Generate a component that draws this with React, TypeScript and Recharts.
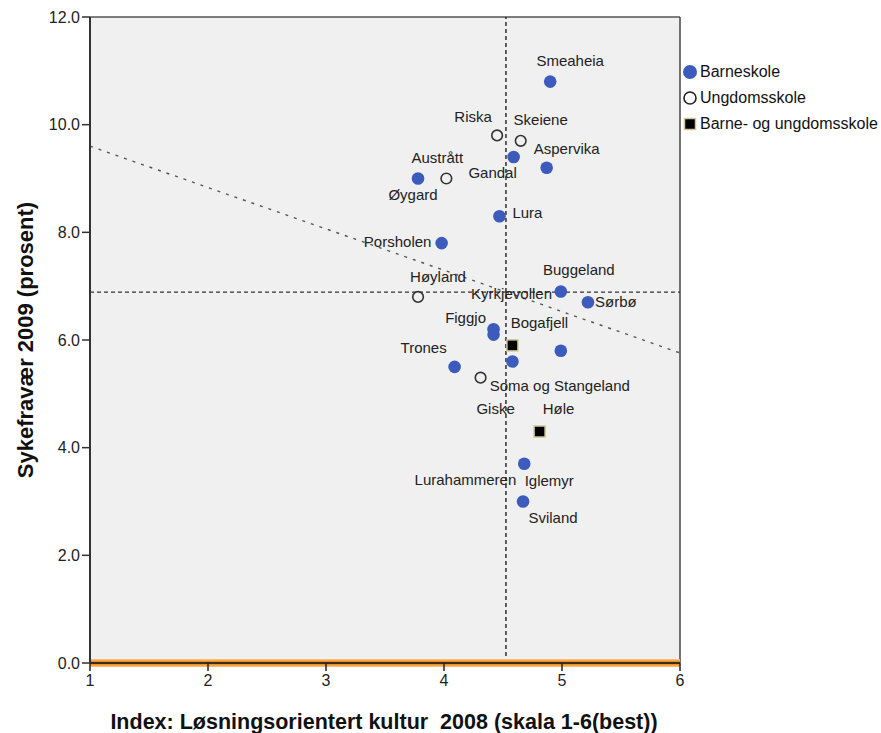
import * as React from "react";
import {
  ScatterChart, Scatter, XAxis, YAxis, CartesianGrid, ReferenceLine, Label,
} from "recharts";

type School = { name: string; x: number; y: number };

// Index: løsningsorientert kultur 2008 (x) vs sykefravær 2009 i prosent (y)
const barneskole: School[] = [
  { name: "Smeaheia", x: 4.9, y: 10.8 },
  { name: "Gandal", x: 4.59, y: 9.4 },
  { name: "Aspervika", x: 4.87, y: 9.2 },
  { name: "Øygard", x: 3.78, y: 9.0 },
  { name: "Lura", x: 4.47, y: 8.3 },
  { name: "Porsholen", x: 3.98, y: 7.8 },
  { name: "Buggeland", x: 4.99, y: 6.9 },
  { name: "Sørbø", x: 5.22, y: 6.7 },
  { name: "Figgjo", x: 4.42, y: 6.2 },
  { name: "Kyrkjevollen", x: 4.42, y: 6.1 },
  { name: "Soma og Stangeland", x: 4.99, y: 5.8 },
  { name: "Lurahammeren", x: 4.58, y: 5.6 },
  { name: "Trones", x: 4.09, y: 5.5 },
  { name: "Iglemyr", x: 4.68, y: 3.7 },
  { name: "Sviland", x: 4.67, y: 3.0 },
];

const ungdomsskole: School[] = [
  { name: "Riska", x: 4.45, y: 9.8 },
  { name: "Skeiene", x: 4.65, y: 9.7 },
  { name: "Austrått", x: 4.02, y: 9.0 },
  { name: "Høyland", x: 3.78, y: 6.8 },
  { name: "Giske", x: 4.31, y: 5.3 },
];

const barneOgUngdom: School[] = [
  { name: "Bogafjell", x: 4.58, y: 5.9 },
  { name: "Høle", x: 4.81, y: 4.3 },
];

const xTicks = [1, 2, 3, 4, 5, 6];
const yTicks = [0, 2, 4, 6, 8, 10, 12];

// mean lines and fitted line
const meanX = 4.525;
const meanY = 6.89;
const fitStart = { x: 1, y: 9.6 };
const fitEnd = { x: 6, y: 5.76 };

// where each school's name sits relative to its marker (px)
const labelOffset: Record<string, [number, number]> = {
  Smeaheia: [20, -16],
  Riska: [-24, -13],
  Skeiene: [20, -16],
  Aspervika: [20, -14],
  Austrått: [-9, -16],
  Gandal: [-21, 21],
  Øygard: [-5, 21],
  Lura: [28, 2],
  Porsholen: [-44, 4],
  Høyland: [20, -15],
  Buggeland: [18, -17],
  Kyrkjevollen: [18, -36],
  Figgjo: [-28, -6],
  Sørbø: [28, 5],
  Bogafjell: [27, -17],
  Trones: [-31, -14],
  "Soma og Stangeland": [-1, 40],
  Lurahammeren: [-47, 123],
  Giske: [15, 36],
  Høle: [19, -18],
  Iglemyr: [25, 22],
  Sviland: [30, 21],
};

const FONT = "'Liberation Sans', Arial, sans-serif";
const BLUE = "#3d5bbd";

function NameLabel({ cx, cy, name }: { cx: number; cy: number; name: string }) {
  const [dx, dy] = labelOffset[name] ?? [0, -12];
  return (
    <text x={cx + dx} y={cy + dy} textAnchor="middle" fontSize={15} fontFamily={FONT} fill="#222">
      {name}
    </text>
  );
}

const filledDot = (p: any) => (
  <g>
    <circle cx={p.cx} cy={p.cy} r={6.3} fill={BLUE} />
    <NameLabel cx={p.cx} cy={p.cy} name={p.payload.name} />
  </g>
);

const openDot = (p: any) => (
  <g>
    <circle cx={p.cx} cy={p.cy} r={5.3} fill="none" stroke="#333" strokeWidth={1.6} />
    <NameLabel cx={p.cx} cy={p.cy} name={p.payload.name} />
  </g>
);

const squareDot = (p: any) => (
  <g>
    <rect x={p.cx - 5.5} y={p.cy - 5.5} width={11} height={11} fill="#000" stroke="#cfc597" strokeWidth={1.5} />
    <NameLabel cx={p.cx} cy={p.cy} name={p.payload.name} />
  </g>
);

const legendItems = [
  { label: "Barneskole", kind: "filled" },
  { label: "Ungdomsskole", kind: "open" },
  { label: "Barne- og ungdomsskole", kind: "square" },
];

function LegendBox() {
  return (
    <div style={{ position: "absolute", left: 682, top: 59, fontFamily: FONT, fontSize: 16, color: "#111" }}>
      {legendItems.map((it) => (
        <div key={it.label} style={{ display: "flex", alignItems: "center", height: 26 }}>
          <svg width={16} height={16} style={{ marginRight: 2 }}>
            {it.kind === "filled" && <circle cx={8} cy={8} r={7} fill={BLUE} />}
            {it.kind === "open" && <circle cx={8} cy={8} r={6} fill="none" stroke="#222" strokeWidth={1.6} />}
            {it.kind === "square" && (
              <rect x={2.5} y={2.5} width={11} height={11} fill="#000" stroke="#cfc597" strokeWidth={1.5} />
            )}
          </svg>
          <span>{it.label}</span>
        </div>
      ))}
    </div>
  );
}

export default function App() {
  return (
    <div style={{ position: "absolute", left: 0, top: 0, width: 881, height: 733, background: "#fff" }}>
      <ScatterChart width={881} height={733} margin={{ top: 17, right: 201, bottom: 30, left: 0 }}>
        <CartesianGrid fill="#f0f0f0" horizontal={false} vertical={false} />
        <XAxis
          dataKey="x"
          type="number"
          domain={[1, 6]}
          ticks={xTicks}
          allowDataOverflow
          height={40}
          tickSize={8}
          tickMargin={4}
          axisLine={{ stroke: "#222", strokeWidth: 1.5 }}
          tickLine={{ stroke: "#222", strokeWidth: 1.5 }}
          tick={{ fill: "#222", fontSize: 16, fontFamily: FONT }}
        >
          <Label
            content={() => (
              <text
                x={384}
                y={729}
                textAnchor="middle"
                fontSize={21.5}
                fontWeight="bold"
                fontFamily={FONT}
                fill="#111"
                style={{ whiteSpace: "pre" }}
              >
                Index: Løsningsorientert kultur  2008 (skala 1-6(best))
              </text>
            )}
          />
        </XAxis>
        <YAxis
          dataKey="y"
          type="number"
          domain={[0, 12]}
          ticks={yTicks}
          allowDataOverflow
          width={90}
          tickSize={8}
          tickMargin={2}
          tickFormatter={(v: number) => v.toFixed(1)}
          axisLine={{ stroke: "#333", strokeWidth: 2 }}
          tickLine={{ stroke: "#333", strokeWidth: 1.5 }}
          tick={{ fill: "#222", fontSize: 16, fontFamily: FONT }}
        >
          <Label
            content={() => (
              <text
                x={33}
                y={340}
                transform="rotate(-90 33 340)"
                textAnchor="middle"
                fontSize={22}
                fontWeight="bold"
                fontFamily={FONT}
                fill="#111"
              >
                Sykefravær 2009 (prosent)
              </text>
            )}
          />
        </YAxis>
        <ReferenceLine y={12} stroke="#555" strokeWidth={1.5} />
        <ReferenceLine x={6} stroke="#444" strokeWidth={1.5} />
        <ReferenceLine
          segment={[fitStart, fitEnd]}
          stroke="#555"
          strokeWidth={1.4}
          strokeDasharray="3 6"
        />
        <ReferenceLine x={meanX} stroke="#111" strokeWidth={1.3} strokeDasharray="4 3" />
        <ReferenceLine y={meanY} stroke="#333" strokeWidth={1.2} strokeDasharray="4 3" />
        <ReferenceLine y={0} stroke="#f8bd78" strokeWidth={8} />
        <ReferenceLine y={0} stroke="#f0901c" strokeWidth={5} />
        <ReferenceLine y={0} stroke="#6a3508" strokeWidth={1.5} />
        <Scatter name="Barneskole" data={barneskole} shape={filledDot} isAnimationActive={false} />
        <Scatter name="Ungdomsskole" data={ungdomsskole} shape={openDot} isAnimationActive={false} />
        <Scatter name="Barne- og ungdomsskole" data={barneOgUngdom} shape={squareDot} isAnimationActive={false} />
      </ScatterChart>
      <LegendBox />
    </div>
  );
}
